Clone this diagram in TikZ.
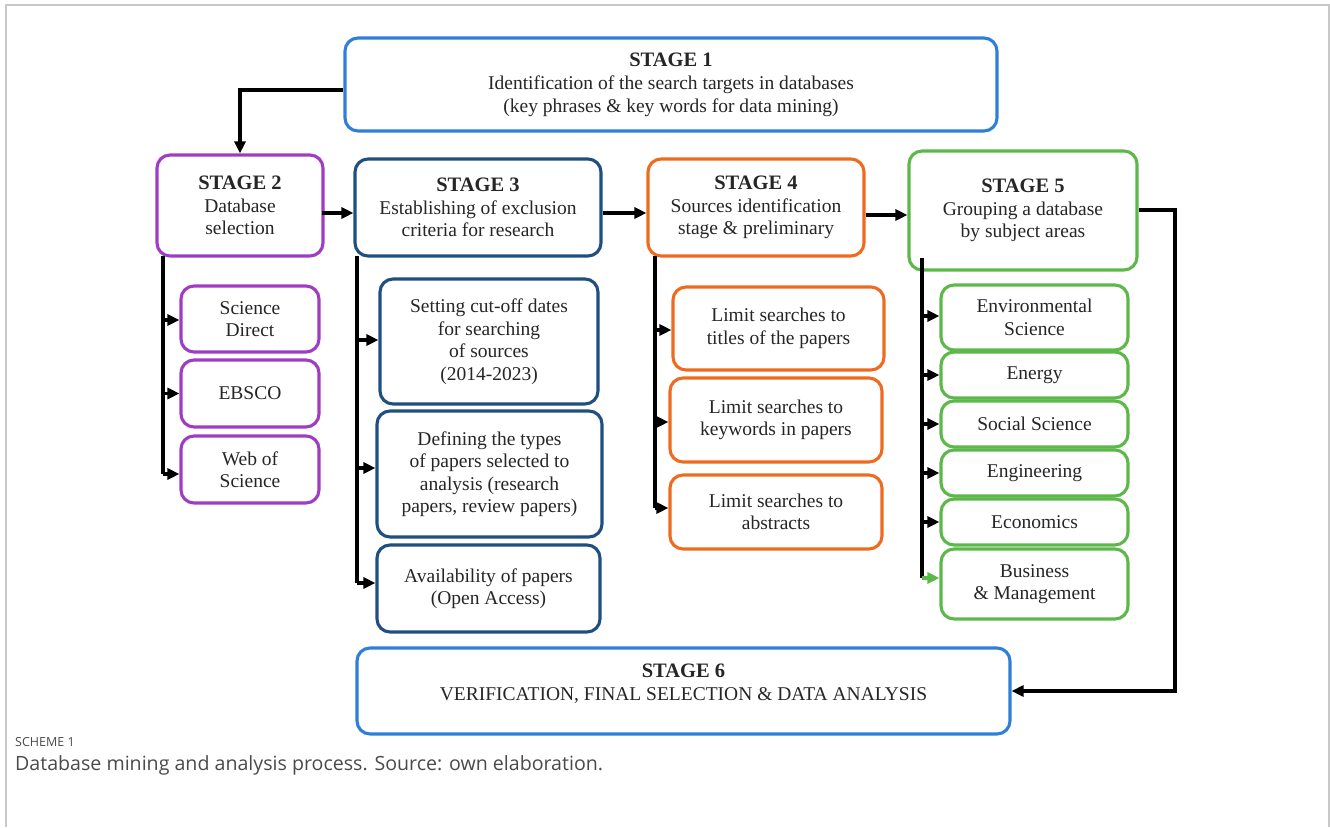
\documentclass[tikz,border=0pt]{standalone}
\usepackage{fontspec}
\setmainfont{Liberation Serif}
\newfontfamily\capfont{Open Sans}
\usetikzlibrary{arrows.meta,calc}
\definecolor{cblue}{HTML}{2F7FD8}
\definecolor{cpurple}{HTML}{A03CC4}
\definecolor{cnavy}{HTML}{1F4E80}
\definecolor{corange}{HTML}{EE6A1F}
\definecolor{cgreen}{HTML}{5CB848}
\definecolor{cframe}{HTML}{C8C8C8}
\definecolor{ccap}{HTML}{4A4A4A}
\newcommand{\stg}[1]{{\fontsize{20.5}{22.5}\selectfont\bfseries #1}}
\tikzset{
  box/.style={draw, rounded corners=13pt, line width=3.1pt, align=center, inner sep=0pt,
    fill=white, font=\fontsize{19.5}{22.5}\selectfont, text=black!85},
  arr/.style={line width=3.1pt, -{Triangle[length=12pt,width=11pt]}},
  trunk/.style={line width=3.1pt},
}
\begin{document}
\begin{tikzpicture}[x=1pt,y=-1pt]
\useasboundingbox (0,0) rectangle (1330,827);
% frame
\draw[cframe, line width=1.5pt] (6,827) -- (6,5) -- (1329,5) -- (1329,827);
% stage boxes
\node[box, draw=cblue, minimum width=652pt, minimum height=93pt] (s1) at (671,84.5)
  {\stg{STAGE 1}\\[1pt] Identification of the search targets in databases\\ (key phrases \& key words for data mining)};
\node[box, draw=cpurple, minimum width=166pt, minimum height=101pt] (s2) at (240,205.5)
  {\stg{STAGE 2}\\ Database\\ selection};
\node[box, draw=cnavy, minimum width=246pt, minimum height=97pt] (s3) at (478,207.5)
  {\stg{STAGE 3}\\ Establishing of exclusion\\ criteria for research};
\node[box, draw=corange, minimum width=216pt, minimum height=97pt] (s4) at (756,207.5)
  {\stg{STAGE 4}\\ Sources identification\\ stage \& preliminary};
\node[box, draw=cgreen, minimum width=228pt, minimum height=119pt] (s5) at (1023,210.5)
  {\stg{STAGE 5}\\ Grouping a database\\ by subject areas};
\node[box, draw=cblue, minimum width=653pt, minimum height=86pt] (s6) at (683.5,691)
  {\stg{STAGE 6}\\ VERIFICATION, FINAL SELECTION \& DATA ANALYSIS\\[-4.5pt]\mbox{}};
% stage 2 sub boxes
\node[box, draw=cpurple, minimum width=138pt, minimum height=66pt] (sd) at (250,319) {Science\\ Direct};
\node[box, draw=cpurple, minimum width=138pt, minimum height=67pt] (eb) at (250,393.5) {EBSCO};
\node[box, draw=cpurple, minimum width=138pt, minimum height=67pt] (ws) at (250,469.5) {Web of\\ Science};
% stage 3 sub boxes
\node[box, draw=cnavy, minimum width=218pt, minimum height=125pt] (c1) at (489,341.5)
  {Setting cut-off dates\\ for searching\\ of sources\\ (2014-2023)};
\node[box, draw=cnavy, minimum width=225pt, minimum height=126pt] (c2) at (489.5,474)
  {Defining the types\\ of papers selected to\\ analysis (research\\ papers, review papers)};
\node[box, draw=cnavy, minimum width=223pt, minimum height=87pt] (c3) at (488.5,588.5)
  {Availability of papers\\ (Open Access)};
% stage 4 sub boxes
\node[box, draw=corange, minimum width=211pt, minimum height=83pt] (l1) at (778.5,328.5)
  {Limit searches to\\ titles of the papers};
\node[box, draw=corange, minimum width=212pt, minimum height=84pt] (l2) at (776,420)
  {Limit searches to\\ keywords in papers};
\node[box, draw=corange, minimum width=212pt, minimum height=74pt] (l3) at (776,512)
  {Limit searches to\\ abstracts};
% stage 5 sub boxes
\node[box, draw=cgreen, minimum width=187pt, minimum height=65pt] (g1) at (1034.5,317.5) {Environmental\\ Science};
\node[box, draw=cgreen, minimum width=187pt, minimum height=46pt] (g2) at (1034.5,375) {Energy};
\node[box, draw=cgreen, minimum width=187pt, minimum height=46pt] (g3) at (1034.5,424) {Social Science};
\node[box, draw=cgreen, minimum width=187pt, minimum height=46pt] (g4) at (1034.5,473) {Engineering};
\node[box, draw=cgreen, minimum width=187pt, minimum height=46pt] (g5) at (1034.5,522) {Economics};
\node[box, draw=cgreen, minimum width=187pt, minimum height=70pt] (g6) at (1034.5,584) {Business\\ \& Management};
% trunk coordinates
\coordinate (t2) at (163,256);
\coordinate (t3) at (357,256);
\coordinate (t4) at (655,256);
\coordinate (t5) at (922,258);
\coordinate (r5) at (1175,210);
% main connectors
\draw[arr] ($(s1.west)+(0,5.5)$) -| (s2.north);
\draw[arr] ($(s2.east)+(-3,7.5)$) -- ($(s3.west)+(0,5.5)$);
\draw[arr] ($(s3.east)+(0,5.5)$) -- ($(s4.west)+(0,5.5)$);
\draw[arr] ($(s4.east)+(0,7.5)$) -- ($(s5.west)+(0,4.5)$);
\draw[arr] ($(s5.east)+(0,-0.5)$) -- (r5) |- (s6.east);
% stage 2 branches
\draw[trunk] (t2) -- (t2 |- 0,474);
\draw[arr] (t2 |- 0,474) -- (ws.west |- 0,474);
\draw[arr] (t2 |- 0,320) -- (sd.west |- 0,320);
\draw[arr] (t2 |- eb.west) -- (eb.west);
% stage 3 branches
\draw[trunk] (t3) -- (t3 |- 0,583);
\draw[arr] (t3 |- 0,340) -- (c1.west |- 0,340);
\draw[arr] (t3 |- 0,468) -- (c2.west |- 0,468);
\draw[arr] (t3 |- 0,583) -- (c3.west |- 0,583);
% stage 4 branches
\draw[trunk] (t4) -- (t4 |- 0,508);
\draw[arr] (t4 |- 0,330) -- (l1.west |- 0,330);
\draw[arr] (t4 |- 0,422) -- (l2.west |- 0,422);
\draw[arr] (t4 |- 0,508) -- (l3.west |- 0,508);
% stage 5 branches
\draw[trunk] (t5) -- (t5 |- 0,578);
\draw[arr] (t5 |- 0,316) -- (g1.west |- 0,316);
\draw[arr] (t5 |- g2.west) -- (g2.west);
\draw[arr] (t5 |- g3.west) -- (g3.west);
\draw[arr] (t5 |- g4.west) -- (g4.west);
\draw[arr] (t5 |- g5.west) -- (g5.west);
\draw[arr, cgreen] (t5 |- 0,578) -- (g6.west |- 0,578);
% caption
\node[anchor=base west, inner sep=0pt, text=ccap, font=\capfont\fontsize{12.5}{14}\selectfont] (cap1) at (15,746) {SCHEME 1};
\node[anchor=base west, inner sep=0pt, text=ccap, font=\capfont\fontsize{19.6}{22}\selectfont] (cap2) at (15,770) {Database mining and analysis process. Source: own elaboration.};
\end{tikzpicture}
\end{document}
